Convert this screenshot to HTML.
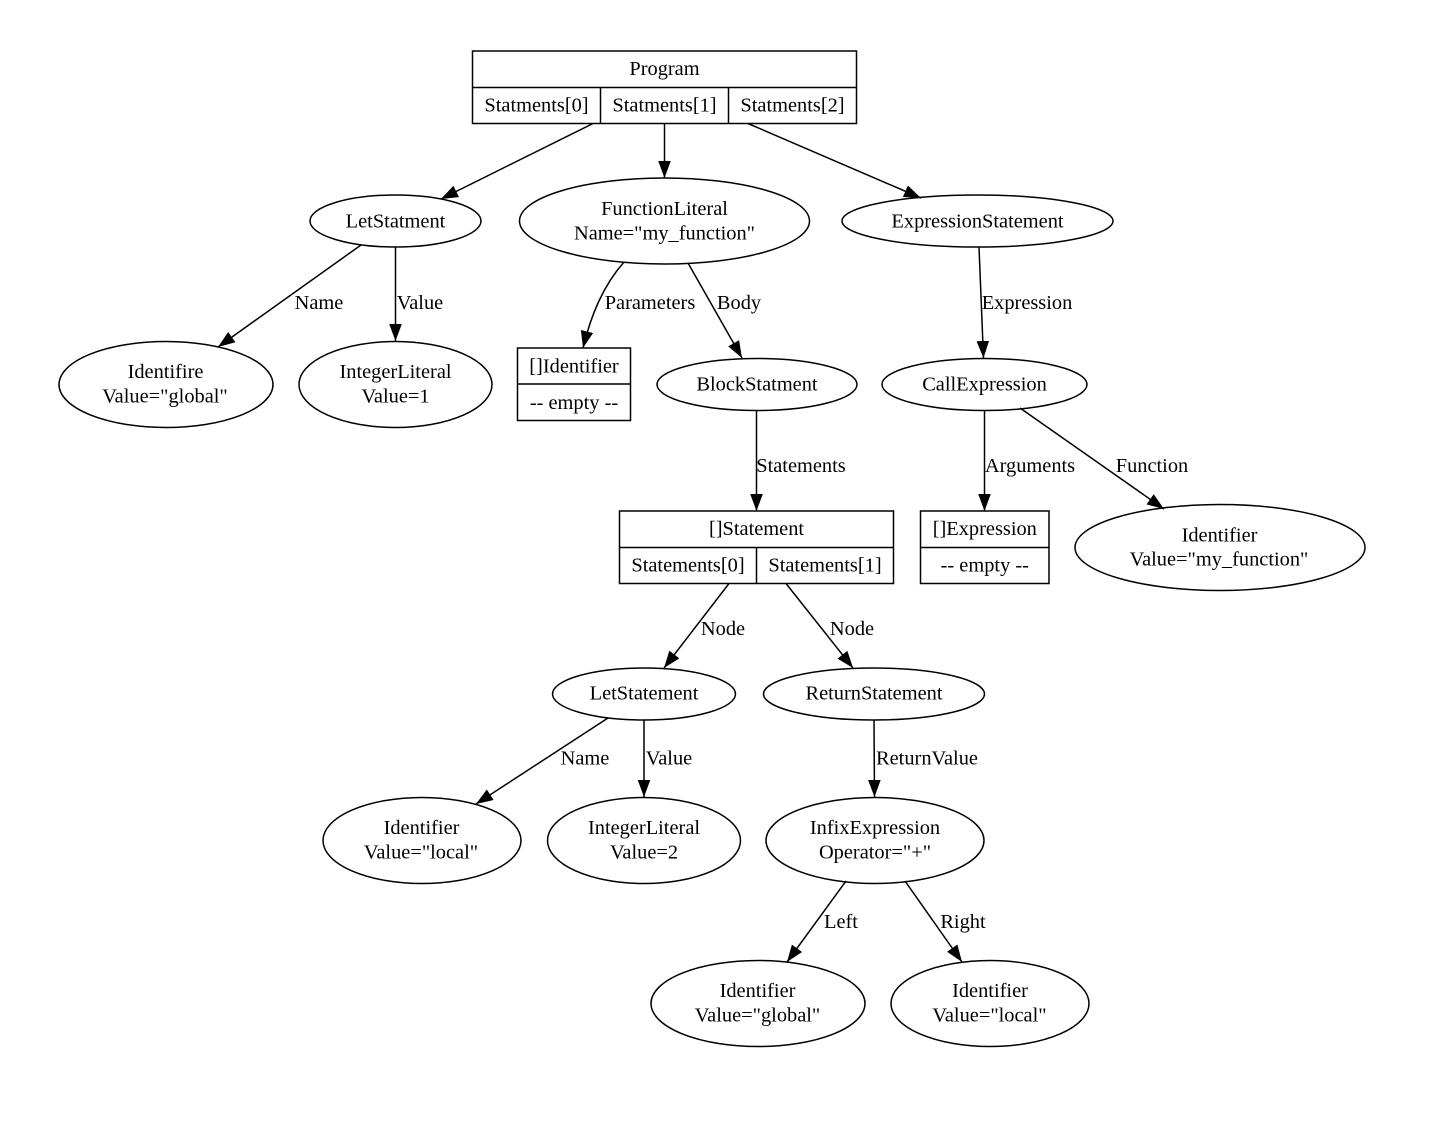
<!DOCTYPE html>
<html><head><meta charset="utf-8"><style>
html,body{margin:0;padding:0;background:#fff}
svg{display:block}
text{font-family:"Liberation Serif",serif;font-size:20.4px;fill:#000;text-anchor:middle}
.s{fill:none;stroke:#000;stroke-width:1.5}
.e{fill:none;stroke:#000;stroke-width:1.5}
</style></head><body>
<svg width="1440" height="1128" viewBox="0 0 1440 1128" xmlns="http://www.w3.org/2000/svg">
<defs><marker id="m" markerUnits="userSpaceOnUse" markerWidth="20" markerHeight="14" refX="17" refY="7" orient="auto"><path d="M0,0.7 L17,7 L0,13.3 Z" fill="#000"/></marker></defs>

<!-- Program -->
<rect class="s" x="472.5" y="51" width="384" height="72.5"/>
<path class="s" d="M472.5 87.5H856.5M600.5 87.5V123.5M728.5 87.5V123.5"/>
<text x="664.5" y="75">Program</text>
<text x="536.5" y="111.5">Statments[0]</text>
<text x="664.5" y="111.5">Statments[1]</text>
<text x="792.5" y="111.5">Statments[2]</text>

<!-- Row 1 -->
<ellipse class="e" cx="395.5" cy="221" rx="85.5" ry="26"/>
<text x="395.5" y="227.5">LetStatment</text>
<ellipse class="e" cx="664.5" cy="221" rx="145" ry="43"/>
<text x="664.5" y="215">FunctionLiteral</text>
<text x="664.5" y="239.5">Name="my_function"</text>
<ellipse class="e" cx="977.5" cy="221" rx="135.5" ry="26"/>
<text x="977.5" y="227.5">ExpressionStatement</text>

<!-- Row 2 -->
<ellipse class="e" cx="166" cy="384.5" rx="107" ry="43"/>
<text x="165.5" y="378">Identifire</text>
<text x="165" y="402.5">Value="global"</text>
<ellipse class="e" cx="395.5" cy="384.5" rx="96.5" ry="43"/>
<text x="395.5" y="378">IntegerLiteral</text>
<text x="395.5" y="402.5">Value=1</text>
<rect class="s" x="517.5" y="348" width="113" height="72.5"/>
<path class="s" d="M517.5 384H630.5"/>
<text x="574" y="372.5">[]Identifier</text>
<text x="574" y="409">-- empty --</text>
<ellipse class="e" cx="757" cy="384.5" rx="100" ry="26"/>
<text x="757" y="390.5">BlockStatment</text>
<ellipse class="e" cx="984.5" cy="384.5" rx="102.5" ry="26"/>
<text x="984.5" y="390.5">CallExpression</text>

<!-- Row 3 -->
<rect class="s" x="619.5" y="511" width="274" height="72.5"/>
<path class="s" d="M619.5 547.5H893.5M756.5 547.5V583.5"/>
<text x="756.5" y="535">[]Statement</text>
<text x="688" y="571.5">Statements[0]</text>
<text x="825" y="571.5">Statements[1]</text>
<rect class="s" x="920.5" y="511" width="128.5" height="72.5"/>
<path class="s" d="M920.5 547.5H1049"/>
<text x="984.8" y="535">[]Expression</text>
<text x="984.8" y="571.5">-- empty --</text>
<ellipse class="e" cx="1220" cy="547.5" rx="145" ry="43"/>
<text x="1219.5" y="541.5">Identifier</text>
<text x="1219" y="565.5">Value="my_function"</text>

<!-- Row 4 -->
<ellipse class="e" cx="644" cy="694" rx="91.5" ry="26"/>
<text x="644" y="699.5">LetStatement</text>
<ellipse class="e" cx="874" cy="694" rx="110.5" ry="26"/>
<text x="874" y="699.5">ReturnStatement</text>

<!-- Row 5 -->
<ellipse class="e" cx="422" cy="840.5" rx="99" ry="43"/>
<text x="421.5" y="834">Identifier</text>
<text x="421" y="858.5">Value="local"</text>
<ellipse class="e" cx="644" cy="840.5" rx="96.5" ry="43"/>
<text x="644" y="834">IntegerLiteral</text>
<text x="644" y="858.5">Value=2</text>
<ellipse class="e" cx="875" cy="840.5" rx="109" ry="43"/>
<text x="875" y="834">InfixExpression</text>
<text x="875" y="858.5">Operator="+"</text>

<!-- Row 6 -->
<ellipse class="e" cx="758" cy="1003.5" rx="107" ry="43"/>
<text x="757.5" y="997">Identifier</text>
<text x="757.5" y="1021.5">Value="global"</text>
<ellipse class="e" cx="990" cy="1003.5" rx="99" ry="43"/>
<text x="990" y="997">Identifier</text>
<text x="989.5" y="1021.5">Value="local"</text>

<!-- Edges -->
<path class="e" marker-end="url(#m)" d="M593 123.5L441 199"/>
<path class="e" marker-end="url(#m)" d="M664.5 123.5V178"/>
<path class="e" marker-end="url(#m)" d="M748 123.5L921 198"/>
<path class="e" marker-end="url(#m)" d="M361 245L218 347"/>
<path class="e" marker-end="url(#m)" d="M395.5 247V341"/>
<path class="e" marker-end="url(#m)" d="M624 262C603 286 591 315 583 348"/>
<path class="e" marker-end="url(#m)" d="M688 263L742 358"/>
<path class="e" marker-end="url(#m)" d="M979 247L983.5 358"/>
<path class="e" marker-end="url(#m)" d="M756.5 410.5V511"/>
<path class="e" marker-end="url(#m)" d="M984.5 410.5V511"/>
<path class="e" marker-end="url(#m)" d="M1020 408L1164 509"/>
<path class="e" marker-end="url(#m)" d="M729 583.5L664 668"/>
<path class="e" marker-end="url(#m)" d="M786 583.5L853 668"/>
<path class="e" marker-end="url(#m)" d="M608 718L476 804"/>
<path class="e" marker-end="url(#m)" d="M644 720V797"/>
<path class="e" marker-end="url(#m)" d="M874 720L874.5 797"/>
<path class="e" marker-end="url(#m)" d="M846 881L787 962"/>
<path class="e" marker-end="url(#m)" d="M905 881L962 962"/>

<!-- Edge labels -->
<text x="319" y="309">Name</text>
<text x="420" y="309">Value</text>
<text x="650" y="309">Parameters</text>
<text x="739" y="309">Body</text>
<text x="1027" y="309">Expression</text>
<text x="801" y="472">Statements</text>
<text x="1030" y="472">Arguments</text>
<text x="1152" y="472">Function</text>
<text x="723" y="635">Node</text>
<text x="852" y="635">Node</text>
<text x="585" y="764.5">Name</text>
<text x="669" y="764.5">Value</text>
<text x="927" y="764.5">ReturnValue</text>
<text x="841" y="928">Left</text>
<text x="963" y="928">Right</text>
</svg>
</body></html>
